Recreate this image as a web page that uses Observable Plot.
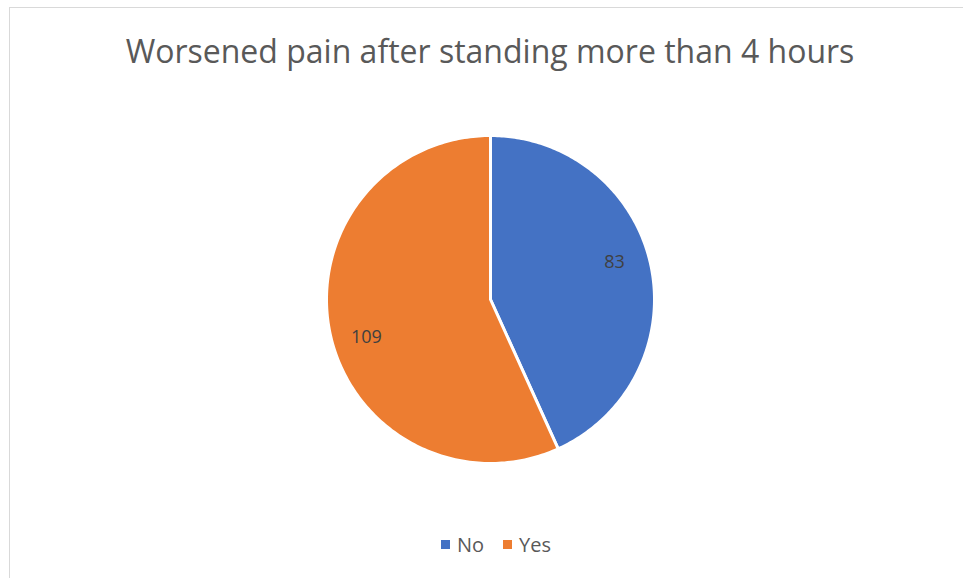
<!DOCTYPE html>
<html>
<head>
<meta charset="utf-8">
<script src="https://cdn.jsdelivr.net/npm/d3@7"></script>
<script src="https://cdn.jsdelivr.net/npm/@observablehq/plot@0.6"></script>
<style>
  html, body { margin: 0; padding: 0; background: #fff; width: 963px; height: 578px; overflow: hidden; }
  body { position: relative; font-family: "Open Sans", "Liberation Sans", sans-serif; }
  #frame { position: absolute; left: 9px; top: 7px; width: 980px; height: 600px; border: 1.5px solid #d9d9d9; box-sizing: border-box; }
  #title { position: absolute; top: 29px; left: 490px; transform: translateX(-50%); white-space: nowrap; font-size: 32px; color: #595959; }
  #chart { position: absolute; left: 0; top: 0; }
  #legend { position: absolute; top: 531px; left: 441px; display: flex; align-items: center; font-size: 20px; color: #595959; white-space: nowrap; }
  .sw { display: inline-block; width: 9px; height: 9px; margin-right: 7px; }
  .item { display: flex; align-items: center; margin-right: 19px; }
</style>
</head>
<body>
<div id="frame"></div>
<div id="title">Worsened pain after standing more than 4 hours</div>
<div id="chart"></div>
<div id="legend"></div>
<script>
const categories = ["No", "Yes"];
const values = [83, 109];
const colors = ["#4472C4", "#ED7D31"];
const titleText = "Worsened pain after standing more than 4 hours";

const pie = d3.pie().sort(null).value(d => d.value)(categories.map((c, i) => ({cat: c, value: values[i]})));

// polygon points for each slice in unit-circle coordinates (angle measured clockwise from top)
const pts = [];
for (const s of pie) {
  pts.push({cat: s.data.cat, x: 0, y: 0});
  const n = 200;
  for (let k = 0; k <= n; k++) {
    const a = s.startAngle + (s.endAngle - s.startAngle) * k / n;
    pts.push({cat: s.data.cat, x: Math.sin(a), y: Math.cos(a)});
  }
}
const labels = pie.map(s => {
  const a = (s.startAngle + s.endAngle) / 2 - 0.08;
  return {cat: s.data.cat, value: s.data.value, x: 0.79 * Math.sin(a), y: 0.79 * Math.cos(a)};
});

const chart = Plot.plot({
  width: 963,
  height: 578,
  margin: 0,
  x: {domain: [-1, 1], range: [326, 654], axis: null},
  y: {domain: [-1, 1], range: [463, 135], axis: null},
  color: {domain: categories, range: colors},
  style: {background: "transparent", overflow: "visible"},
  marks: [
    Plot.line(pts, {x: "x", y: "y", z: "cat", fill: "cat", stroke: "white", strokeWidth: 3, curve: "linear-closed", strokeLinejoin: "round"}),
    Plot.text(labels, {x: "x", y: "y", text: d => String(d.value), fill: "#404040", fontSize: 18, fontFamily: "Open Sans, sans-serif"})
  ]
});
document.getElementById("chart").appendChild(chart);

const legend = document.getElementById("legend");
categories.forEach((c, i) => {
  const it = document.createElement("div");
  it.className = "item";
  const sw = document.createElement("span");
  sw.className = "sw";
  sw.style.background = colors[i];
  it.appendChild(sw);
  it.appendChild(document.createTextNode(c));
  legend.appendChild(it);
});
</script>
</body>
</html>
